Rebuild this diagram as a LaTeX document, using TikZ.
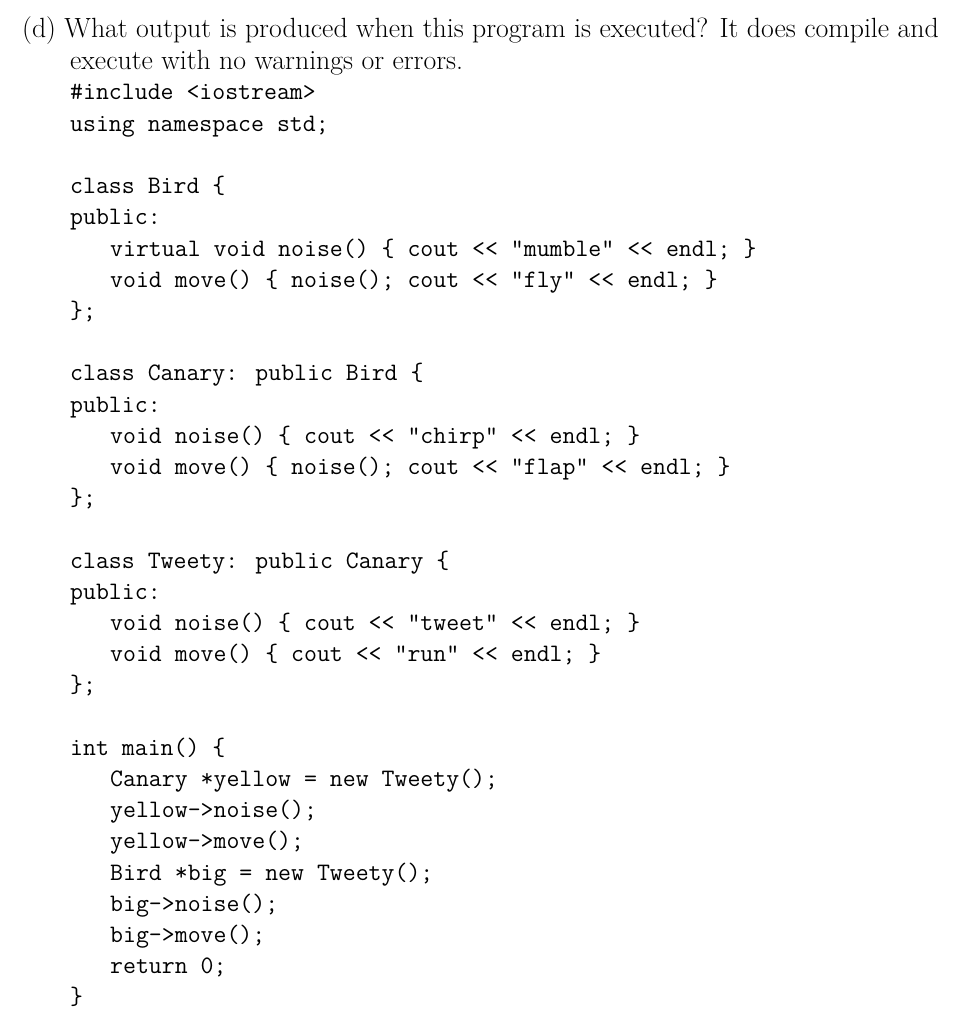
\documentclass[tikz,border=0pt]{standalone}
\usepackage{fontspec}
\begin{document}
\begin{tikzpicture}[x=1pt,y=-1pt,
  cl/.style={anchor=base west,inner sep=0pt,font=\fontsize{25.1}{28}\ttfamily},
  hd/.style={anchor=base west,inner sep=0pt,font=\fontsize{27.8}{32}\selectfont}]
\useasboundingbox (0,0) rectangle (978,1024);
\node[hd] (h1) at (22,38) {(d) What output is produced when this program is executed? It does compile and};
\node[hd] (h2) at (70,70) {execute with no warnings or errors.};
\def\L#1#2#3{\node[cl] (l#1) at (#2,{100+31.2*#1}) {#3};}
\L{0}{70}{\#include <iostream>}
\L{1}{70}{using namespace std;}
\L{3}{70}{class Bird \{}
\L{4}{70}{public:}
\L{5}{110}{virtual void noise() \{ cout << "mumble" << endl; \}}
\L{6}{110}{void move() \{ noise(); cout << "fly" << endl; \}}
\L{7}{70}{\};}
\L{9}{70}{class Canary: public Bird \{}
\L{10}{70}{public:}
\L{11}{110}{void noise() \{ cout << "chirp" << endl; \}}
\L{12}{110}{void move() \{ noise(); cout << "flap" << endl; \}}
\L{13}{70}{\};}
\L{15}{70}{class Tweety: public Canary \{}
\L{16}{70}{public:}
\L{17}{110}{void noise() \{ cout << "tweet" << endl; \}}
\L{18}{110}{void move() \{ cout << "run" << endl; \}}
\L{19}{70}{\};}
\L{21}{70}{int main() \{}
\L{22}{110}{Canary *yellow = new Tweety();}
\L{23}{110}{yellow->noise();}
\L{24}{110}{yellow->move();}
\L{25}{110}{Bird *big = new Tweety();}
\L{26}{110}{big->noise();}
\L{27}{110}{big->move();}
\L{28}{110}{return 0;}
\L{29}{70}{\}}
\end{tikzpicture}
\end{document}
